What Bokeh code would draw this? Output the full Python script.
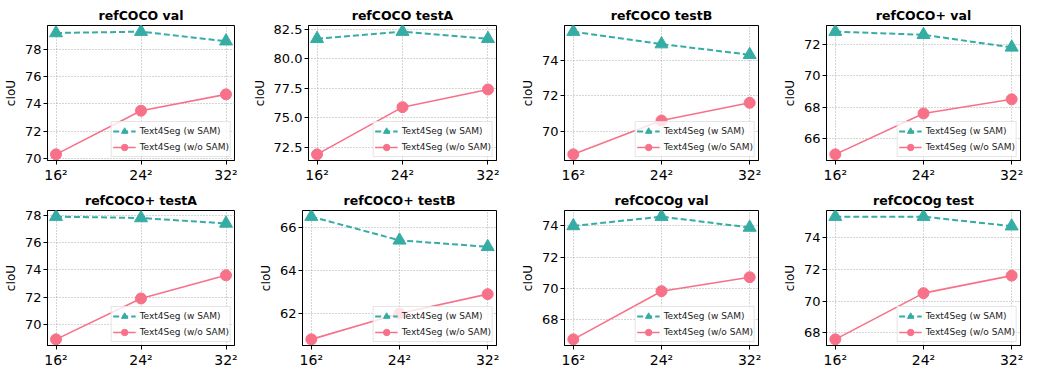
from bokeh.plotting import figure
from bokeh.layouts import column, row
from bokeh.models import Range1d, FixedTicker, Legend, LegendItem, NumeralTickFormatter
from bokeh.embed import file_html
from bokeh.resources import INLINE

titles = ["refCOCO val", "refCOCO testA", "refCOCO testB", "refCOCO+ val",
          "refCOCO+ testA", "refCOCO+ testB", "refCOCOg val", "refCOCOg test"]
x_labels = ["16²", "24²", "32²"]
w_sam = [
    [79.2, 79.3, 78.6],
    [81.7, 82.3, 81.7],
    [75.6, 74.9, 74.3],
    [72.8, 72.6, 71.8],
    [77.9, 77.8, 77.4],
    [66.5, 65.4, 65.1],
    [74.0, 74.6, 73.9],
    [75.3, 75.3, 74.7],
]
wo_sam = [
    [70.3, 73.5, 74.7],
    [71.9, 75.9, 77.4],
    [68.7, 70.6, 71.6],
    [65.0, 67.6, 68.5],
    [68.9, 71.9, 73.6],
    [60.8, 62.0, 62.9],
    [66.7, 69.8, 70.7],
    [67.6, 70.5, 71.6],
]
y_ticks = [
    [70, 72, 74, 76, 78],
    [72.5, 75.0, 77.5, 80.0, 82.5],
    [70, 72, 74],
    [66, 68, 70, 72],
    [70, 72, 74, 76, 78],
    [62, 64, 66],
    [68, 70, 72, 74],
    [68, 70, 72, 74],
]
series_labels = ["Text4Seg (w SAM)", "Text4Seg (w/o SAM)"]
y_label = "cIoU"

TEAL = "#36ada4"
PINK = "#f77189"
FONT = "DejaVu Sans"

FRAME_W = 194
LEFT = [40, 53, 53, 53]
RIGHT = [15, 15, 15, 8]


def make_panel(i):
    col = i % 4
    xs = list(range(len(x_labels)))
    lo = min(w_sam[i] + wo_sam[i])
    hi = max(w_sam[i] + wo_sam[i])
    span = hi - lo
    p = figure(width=LEFT[col] + FRAME_W + RIGHT[col], height=185,
               output_backend="svg", toolbar_location=None,
               min_border_left=LEFT[col], min_border_right=RIGHT[col],
               min_border_top=25, min_border_bottom=21)
    p.x_range = Range1d(-0.1, len(xs) - 0.9)
    p.y_range = Range1d(lo - 0.05 * span, hi + 0.05 * span)

    p.title.text = titles[i]
    p.title.align = "center"
    p.title.text_font = FONT
    p.title.text_font_size = "12.5px"
    p.title.text_font_style = "bold"
    p.title.text_color = "black"
    p.title.standoff = 6

    l1 = p.line(xs, w_sam[i], line_color=TEAL, line_width=2, line_dash="6 3")
    s1 = p.scatter(xs, w_sam[i], marker="triangle", size=13, fill_color=TEAL, line_color=TEAL)
    l2 = p.line(xs, wo_sam[i], line_color=PINK, line_width=1.6)
    s2 = p.scatter(xs, wo_sam[i], marker="circle", size=11, fill_color=PINK, line_color=PINK)

    p.xaxis.ticker = FixedTicker(ticks=xs)
    p.xaxis.major_label_overrides = {k: v for k, v in zip(xs, x_labels)}
    p.yaxis.ticker = FixedTicker(ticks=y_ticks[i])
    if any(abs(t - round(t)) > 1e-9 for t in y_ticks[i]):
        p.yaxis.formatter = NumeralTickFormatter(format="0.0")
    else:
        p.yaxis.formatter = NumeralTickFormatter(format="0")
    p.yaxis.axis_label = y_label
    p.yaxis.axis_label_text_font = FONT
    p.yaxis.axis_label_text_font_size = "12px"
    p.yaxis.axis_label_text_font_style = "normal"
    p.yaxis.axis_label_text_color = "black"
    p.yaxis.axis_label_standoff = 4

    for ax in (p.xaxis, p.yaxis):
        ax.major_label_text_font = FONT
        ax.major_label_text_color = "black"
        ax.minor_tick_line_color = None
        ax.major_tick_in = 0
        ax.major_tick_out = 4
        ax.major_tick_line_color = "black"
        ax.axis_line_color = "black"
        ax.major_label_standoff = 2
    p.xaxis.major_label_text_font_size = "14px"
    p.yaxis.major_label_text_font_size = "13px"

    for g in (p.xgrid, p.ygrid):
        g.grid_line_color = "#a0a0a0"
        g.grid_line_dash = "1 2"
        g.grid_line_width = 0.9

    p.outline_line_color = "black"
    p.outline_line_width = 1
    p.outline_line_alpha = 1

    legend = Legend(items=[LegendItem(label=series_labels[0], renderers=[l1, s1]),
                           LegendItem(label=series_labels[1], renderers=[l2, s2])],
                    location="bottom_right")
    legend.label_text_font = FONT
    legend.label_text_font_size = "9px"
    legend.label_text_color = "#222222"
    legend.glyph_width = 23
    legend.glyph_height = 16
    legend.label_height = 16
    legend.label_standoff = 4
    legend.spacing = 0
    legend.padding = 1
    legend.margin = 3
    legend.border_line_color = "#cccccc"
    legend.border_line_width = 1
    legend.background_fill_alpha = 0.8
    p.add_layout(legend)
    return p


panels = [make_panel(i) for i in range(8)]
layout = column(row(*panels[:4], spacing=0), row(*panels[4:], spacing=0), spacing=0)

open("out.html", "w").write(file_html(layout, INLINE))
